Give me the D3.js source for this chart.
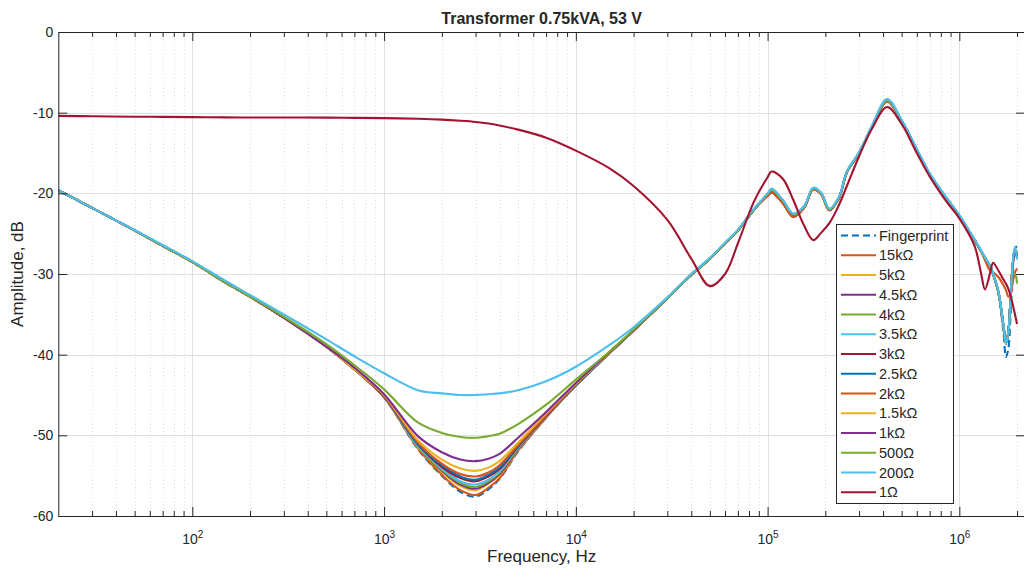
<!DOCTYPE html>
<html>
<head>
<meta charset="utf-8">
<script src="https://cdn.jsdelivr.net/npm/d3@7"></script>
<style>
  body { margin: 0; background: #fff; }
  svg { display: block; }
  text { font-family: "Liberation Sans", Arial, Helvetica, sans-serif; fill: #262626; }
</style>
</head>
<body>
<svg id="chart" width="1024" height="572"></svg>
<script>
// Frequency grid shared by every measured curve (Hz)
const freqHz = [20, 30, 50, 70, 100, 150, 200, 300, 500, 700,
  1000, 1500, 2000, 2500, 3000, 3500, 4000, 5000, 7000, 10000,
  15000, 20000, 30000, 40000, 50000, 60000, 70000, 85000, 100000, 105000,
  120000, 136000, 155000, 173000, 190000, 210000, 235000, 260000, 300000, 350000,
  420000, 500000, 600000, 700000, 850000, 1000000, 1200000, 1300000, 1360000, 1450000,
  1500000, 1600000, 1700000, 1750000, 1800000, 1850000, 1900000, 1950000, 2000000];

// Amplitude (dB) of each measurement, one value per frequency above
const fingerprint = [-19.6,-21.8,-24.6,-26.5,-28.5,-31.1,-32.8,-35.4,-39.0,-41.8,
  -45.3,-51.7,-55.0,-57.0,-57.6,-56.7,-55.4,-52.0,-47.8,-43.8,
  -39.8,-37.0,-33.0,-30.1,-28.1,-26.2,-24.6,-22.0,-20.1,-19.6,
  -20.9,-22.6,-21.7,-19.4,-20.0,-22.0,-20.6,-17.3,-15.0,-11.8,
  -8.5,-11.0,-14.6,-17.6,-20.5,-22.8,-25.8,-27.2,-28.0,-29.1,
  -30.0,-32.5,-37.3,-40.3,-39.3,-35.0,-29.5,-26.8,-26.6];
const load15k = [-19.6,-21.8,-24.6,-26.5,-28.5,-31.1,-32.8,-35.4,-39.0,-41.8,
  -45.3,-51.6,-54.9,-56.8,-57.4,-56.5,-55.3,-51.9,-47.8,-43.8,
  -39.8,-37.0,-33.0,-30.1,-28.1,-26.2,-24.6,-22.0,-20.3,-19.9,
  -21.2,-22.9,-21.8,-19.5,-20.1,-22.1,-20.6,-17.3,-15.0,-11.8,
  -8.6,-11.0,-14.6,-17.6,-20.5,-22.8,-25.8,-27.2,-28.0,-29.1,
  -30.0,-32.3,-36.5,-38.6,-37.3,-33.0,-28.8,-27.0,-27.6];
const load5k = [-19.6,-21.8,-24.6,-26.5,-28.5,-31.1,-32.8,-35.4,-39.0,-41.8,
  -45.2,-51.5,-54.5,-56.3,-56.8,-56.0,-54.9,-51.8,-47.7,-43.8,
  -39.8,-37.0,-33.0,-30.1,-28.1,-26.2,-24.6,-22.0,-20.1,-19.6,
  -20.9,-22.6,-21.7,-19.4,-20.0,-22.0,-20.6,-17.3,-15.0,-11.8,
  -8.5,-11.0,-14.6,-17.6,-20.5,-22.8,-25.8,-27.2,-28.0,-29.1,
  -30.0,-32.3,-36.5,-38.6,-37.3,-33.0,-28.8,-27.0,-27.8];
const load4k5 = [-19.6,-21.8,-24.6,-26.5,-28.5,-31.1,-32.8,-35.4,-39.0,-41.8,
  -45.2,-51.4,-54.4,-56.1,-56.6,-55.9,-54.8,-51.7,-47.7,-43.8,
  -39.8,-37.0,-33.0,-30.1,-28.1,-26.2,-24.6,-22.0,-20.1,-19.6,
  -20.9,-22.6,-21.7,-19.4,-20.0,-22.0,-20.6,-17.3,-15.0,-11.8,
  -8.5,-11.0,-14.6,-17.6,-20.5,-22.8,-25.8,-27.2,-28.0,-29.1,
  -30.0,-32.3,-36.5,-38.6,-37.3,-33.0,-28.8,-27.0,-28.0];
const load4k = [-19.6,-21.8,-24.6,-26.5,-28.5,-31.1,-32.8,-35.4,-39.0,-41.8,
  -45.2,-51.4,-54.3,-55.9,-56.4,-55.7,-54.6,-51.6,-47.7,-43.8,
  -39.8,-37.0,-33.0,-30.1,-28.1,-26.2,-24.6,-22.0,-20.1,-19.6,
  -20.9,-22.6,-21.7,-19.4,-20.0,-22.0,-20.6,-17.3,-15.0,-11.8,
  -8.5,-11.0,-14.6,-17.6,-20.5,-22.8,-25.8,-27.2,-28.0,-29.1,
  -30.0,-32.3,-36.5,-38.6,-37.3,-33.0,-28.8,-27.0,-27.4];
const load3k5 = [-19.6,-21.8,-24.6,-26.5,-28.5,-31.1,-32.8,-35.4,-39.0,-41.8,
  -45.2,-51.3,-54.1,-55.7,-56.1,-55.5,-54.5,-51.5,-47.6,-43.8,
  -39.8,-37.0,-33.0,-30.1,-28.1,-26.2,-24.6,-22.0,-20.1,-19.6,
  -20.9,-22.6,-21.7,-19.4,-20.0,-22.0,-20.6,-17.3,-15.0,-11.8,
  -8.5,-11.0,-14.6,-17.6,-20.5,-22.8,-25.8,-27.2,-28.0,-29.1,
  -30.0,-32.3,-36.5,-38.6,-37.3,-33.0,-28.8,-27.0,-27.4];
const load3k = [-19.6,-21.8,-24.6,-26.5,-28.5,-31.1,-32.8,-35.4,-39.0,-41.8,
  -45.2,-51.1,-53.9,-55.3,-55.7,-55.1,-54.2,-51.4,-47.6,-43.8,
  -39.8,-37.0,-33.0,-30.1,-28.1,-26.2,-24.6,-22.0,-20.3,-19.9,
  -21.2,-22.9,-21.8,-19.5,-20.1,-22.1,-20.6,-17.3,-15.0,-11.8,
  -8.6,-11.0,-14.6,-17.6,-20.5,-22.8,-25.8,-27.2,-28.0,-29.1,
  -30.0,-32.3,-36.5,-38.6,-37.3,-33.0,-28.8,-27.0,-27.6];
const load2k5 = [-19.6,-21.8,-24.6,-26.5,-28.5,-31.1,-32.8,-35.4,-39.0,-41.8,
  -45.1,-51.1,-53.7,-55.1,-55.5,-54.9,-54.0,-51.3,-47.5,-43.8,
  -39.8,-37.0,-33.0,-30.1,-28.1,-26.2,-24.6,-22.0,-20.1,-19.6,
  -20.9,-22.6,-21.7,-19.4,-20.0,-22.0,-20.6,-17.3,-15.0,-11.8,
  -8.5,-11.0,-14.6,-17.6,-20.5,-22.8,-25.8,-27.2,-28.0,-29.1,
  -30.0,-32.3,-36.5,-38.6,-37.3,-33.0,-28.8,-27.0,-27.4];
const load2k = [-19.6,-21.8,-24.6,-26.5,-28.5,-31.1,-32.8,-35.4,-39.0,-41.8,
  -45.1,-50.9,-53.5,-54.8,-55.1,-54.6,-53.7,-51.2,-47.5,-43.7,
  -39.7,-37.0,-33.0,-30.1,-28.1,-26.2,-24.6,-22.0,-20.3,-19.9,
  -21.2,-22.9,-21.8,-19.5,-20.1,-22.1,-20.6,-17.3,-15.0,-11.8,
  -8.6,-11.0,-14.6,-17.6,-20.5,-22.8,-25.8,-27.2,-28.3,-29.6,
  -29.8,-30.4,-31.4,-32.0,-32.8,-32.5,-31.0,-29.8,-29.3];
const load1k5 = [-19.6,-21.8,-24.6,-26.5,-28.5,-31.1,-32.8,-35.4,-39.0,-41.8,
  -45.0,-50.6,-53.0,-54.1,-54.4,-54.0,-53.2,-50.9,-47.3,-43.6,
  -39.8,-37.0,-33.0,-30.1,-28.1,-26.2,-24.6,-22.0,-20.1,-19.6,
  -20.9,-22.6,-21.7,-19.4,-20.0,-22.0,-20.6,-17.3,-15.0,-11.8,
  -8.5,-11.0,-14.6,-17.6,-20.5,-22.8,-25.8,-27.2,-28.0,-29.1,
  -30.0,-32.3,-36.5,-38.6,-37.3,-33.0,-28.8,-27.0,-27.4];
const load1k = [-19.6,-21.8,-24.6,-26.5,-28.5,-31.1,-32.8,-35.4,-39.0,-41.6,
  -44.9,-50.1,-52.1,-53.0,-53.2,-52.9,-52.3,-50.3,-47.1,-43.5,
  -39.7,-37.0,-33.0,-30.1,-28.1,-26.2,-24.6,-22.0,-20.1,-19.6,
  -20.9,-22.6,-21.7,-19.4,-20.0,-22.0,-20.6,-17.3,-15.0,-11.8,
  -8.5,-11.0,-14.6,-17.6,-20.5,-22.8,-25.8,-27.2,-28.0,-29.1,
  -30.0,-32.3,-36.5,-38.6,-37.3,-33.0,-28.8,-27.0,-28.0];
const load500 = [-19.6,-21.8,-24.6,-26.5,-28.5,-31.1,-32.8,-35.3,-38.7,-41.3,
  -44.3,-48.4,-49.7,-50.2,-50.3,-50.1,-49.8,-48.6,-46.2,-43.1,
  -39.6,-36.9,-33.0,-30.1,-28.1,-26.2,-24.6,-22.0,-20.1,-19.6,
  -20.9,-22.6,-21.7,-19.4,-20.0,-22.0,-20.6,-17.3,-15.0,-11.8,
  -8.5,-11.0,-14.6,-17.6,-20.5,-22.8,-25.8,-27.2,-28.0,-29.1,
  -30.0,-32.3,-36.5,-38.6,-37.3,-33.5,-30.0,-30.0,-31.2];
const load200 = [-19.6,-21.8,-24.55,-26.4,-28.4,-30.9,-32.6,-35.0,-38.1,-40.2,
  -42.3,-44.4,-44.8,-45.0,-45.0,-44.9,-44.8,-44.4,-43.3,-41.5,
  -38.8,-36.6,-32.9,-30.0,-28.0,-26.1,-24.5,-21.9,-20.0,-19.4,
  -20.8,-22.5,-21.6,-19.3,-19.9,-21.9,-20.5,-17.2,-14.9,-11.6,
  -8.3,-10.9,-14.5,-17.5,-20.4,-22.7,-25.7,-27.1,-27.9,-29.0,
  -29.9,-32.2,-36.4,-38.6,-37.3,-33.0,-28.5,-26.6,-28.2];
const load1 = [-10.4,-10.45,-10.5,-10.52,-10.55,-10.58,-10.6,-10.6,-10.62,-10.64,
  -10.68,-10.76,-10.86,-11.0,-11.15,-11.35,-11.6,-12.1,-13.1,-14.7,
  -16.9,-19.1,-23.3,-28.1,-31.5,-30.0,-26.2,-21.0,-18.0,-17.3,
  -18.2,-20.8,-24.0,-25.8,-24.9,-23.7,-21.5,-19.0,-15.4,-12.0,
  -9.3,-11.4,-15.0,-17.9,-20.9,-23.1,-26.5,-30.0,-31.9,-29.8,
  -28.6,-29.6,-30.7,-31.2,-31.8,-32.7,-33.8,-35.0,-36.2];

const seriesNames = ["Fingerprint", "15k\u03A9", "5k\u03A9", "4.5k\u03A9", "4k\u03A9", "3.5k\u03A9",
  "3k\u03A9", "2.5k\u03A9", "2k\u03A9", "1.5k\u03A9", "1k\u03A9", "500\u03A9", "200\u03A9", "1\u03A9"];
const seriesValues = [fingerprint, load15k, load5k, load4k5, load4k, load3k5,
  load3k, load2k5, load2k, load1k5, load1k, load500, load200, load1];

// Axis ticks
const xTickExponents = [2, 3, 4, 5, 6];
const yTicks = [0, -10, -20, -30, -40, -50, -60];

// Line colours (default plotting palette, cycling)
const palette = ["#0072BD", "#D95319", "#EDB120", "#7E2F8E", "#77AC30", "#4DBEEE", "#A2142F"];

const plot = { left: 58.3, right: 1025, top: 32, bottom: 516 };
const x = d3.scaleLog().domain([20, 2.2e6]).range([plot.left, plot.right]);
const y = d3.scaleLinear().domain([-60, 0]).range([plot.bottom, plot.top]);

const svg = d3.select("#chart");
const axisColor = "#262626";
const fontFamily = "'Liberation Sans', Arial, sans-serif";

const xMajor = xTickExponents.map(e => Math.pow(10, e));
const xMinor = [];
for (let e = 1; e <= 6; e++) {
  for (let k = 2; k <= 9; k++) {
    const v = k * Math.pow(10, e);
    if (v > 20 && v <= 2e6) xMinor.push(v);
  }
}
const snap = v => Math.round(v) + 0.5;

// Grid
const grid = svg.append("g");
grid.selectAll("line.minor").data(xMinor).join("line")
  .attr("class", "minor")
  .attr("x1", d => snap(x(d))).attr("x2", d => snap(x(d)))
  .attr("y1", plot.top).attr("y2", plot.bottom)
  .attr("stroke", "#dadada").attr("stroke-dasharray", "1,2.5");
grid.selectAll("line.major").data(xMajor).join("line")
  .attr("class", "major")
  .attr("x1", d => snap(x(d))).attr("x2", d => snap(x(d)))
  .attr("y1", plot.top).attr("y2", plot.bottom)
  .attr("stroke", "#e0e0e0");
grid.selectAll("line.hgrid").data(yTicks.filter(v => v > -60 && v < 0)).join("line")
  .attr("class", "hgrid")
  .attr("x1", plot.left).attr("x2", plot.right)
  .attr("y1", d => snap(y(d))).attr("y2", d => snap(y(d)))
  .attr("stroke", "#e0e0e0");

// Curves
svg.append("defs").append("clipPath").attr("id", "plotClip")
  .append("rect").attr("x", plot.left).attr("y", plot.top)
  .attr("width", plot.right - plot.left).attr("height", plot.bottom - plot.top);

const line = d3.line()
  .x((d, i) => x(freqHz[i]))
  .y(d => y(d))
  .curve(d3.curveCatmullRom.alpha(0.5));

const curves = svg.append("g").attr("clip-path", "url(#plotClip)");
seriesValues.forEach((vals, i) => {
  curves.append("path")
    .datum(vals)
    .attr("d", line)
    .attr("fill", "none")
    .attr("stroke", palette[i % palette.length])
    .attr("stroke-width", 2.1)
    .attr("stroke-linejoin", "round")
    .attr("stroke-dasharray", i === 0 ? "7,4" : null);
});

// Axes
function styleAxis(g) {
  g.selectAll("path.domain").attr("stroke", axisColor);
  g.selectAll(".tick line").attr("stroke", axisColor);
  g.selectAll(".tick text").attr("fill", axisColor).style("font-size", "14px")
    .style("font-family", fontFamily);
}

// bottom: major ticks with 10^n labels
const gBottom = svg.append("g").attr("transform", `translate(0,${plot.bottom})`)
  .call(d3.axisBottom(x).tickValues(xMajor).tickSizeInner(-9).tickSizeOuter(0)
    .tickPadding(18).tickFormat(() => ""))
  .call(styleAxis);
gBottom.selectAll(".tick text").each(function (d) {
  const t = d3.select(this).text(null).attr("dy", null).attr("y", 28);
  t.append("tspan").text("10");
  t.append("tspan").attr("dy", -6).style("font-size", "10px").text(String(Math.round(Math.log10(d))));
});
svg.append("g").attr("transform", `translate(0,${plot.bottom})`)
  .call(d3.axisBottom(x).tickValues(xMinor).tickSize(-5).tickFormat(() => ""))
  .call(g => g.select("path.domain").remove())
  .call(styleAxis);

// top
svg.append("g").attr("transform", `translate(0,${plot.top})`)
  .call(d3.axisTop(x).tickValues(xMajor).tickSizeInner(-9).tickSizeOuter(0).tickFormat(() => ""))
  .call(styleAxis);
svg.append("g").attr("transform", `translate(0,${plot.top})`)
  .call(d3.axisTop(x).tickValues(xMinor).tickSize(-5).tickFormat(() => ""))
  .call(g => g.select("path.domain").remove())
  .call(styleAxis);

// left
svg.append("g").attr("transform", `translate(${plot.left},0)`)
  .call(d3.axisLeft(y).tickValues(yTicks).tickSizeInner(-9).tickSizeOuter(0)
    .tickPadding(5).tickFormat(d => String(d)))
  .call(styleAxis);
// right
svg.append("g").attr("transform", `translate(${plot.right},0)`)
  .call(d3.axisRight(y).tickValues(yTicks).tickSizeInner(-9).tickSizeOuter(0).tickFormat(() => ""))
  .call(styleAxis);

// Titles
svg.append("text")
  .attr("x", (plot.left + plot.right) / 2).attr("y", 24)
  .attr("text-anchor", "middle")
  .style("font-size", "16px").style("font-weight", "bold")
  .attr("fill", "#000")
  .text("Transformer 0.75kVA, 53 V");
svg.append("text")
  .attr("x", (plot.left + plot.right) / 2).attr("y", 562)
  .attr("text-anchor", "middle")
  .style("font-size", "17px")
  .text("Frequency, Hz");
svg.append("text")
  .attr("transform", `translate(23,${(plot.top + plot.bottom) / 2}) rotate(-90)`)
  .attr("text-anchor", "middle")
  .style("font-size", "17px")
  .text("Amplitude, dB");

// Legend
const legend = { x: 836.5, y: 224.5, w: 117, h: 279, rowH: 19.75, firstRow: 235.5 };
const lg = svg.append("g");
lg.append("rect")
  .attr("x", legend.x).attr("y", legend.y).attr("width", legend.w).attr("height", legend.h)
  .attr("fill", "#fff").attr("stroke", axisColor).attr("stroke-width", 1);
const rows = lg.selectAll("g.row").data(seriesNames).join("g")
  .attr("class", "row")
  .attr("transform", (d, i) => `translate(0,${legend.firstRow + i * legend.rowH})`);
rows.append("line")
  .attr("x1", 841).attr("x2", 876).attr("y1", 0).attr("y2", 0)
  .attr("stroke", (d, i) => palette[i % palette.length])
  .attr("stroke-width", 2.1)
  .attr("stroke-dasharray", (d, i) => i === 0 ? "7,4" : null);
rows.append("text")
  .attr("x", 879).attr("y", 0).attr("dy", "0.36em")
  .style("font-size", "14.5px")
  .attr("fill", "#000")
  .text(d => d);
</script>
</body>
</html>
